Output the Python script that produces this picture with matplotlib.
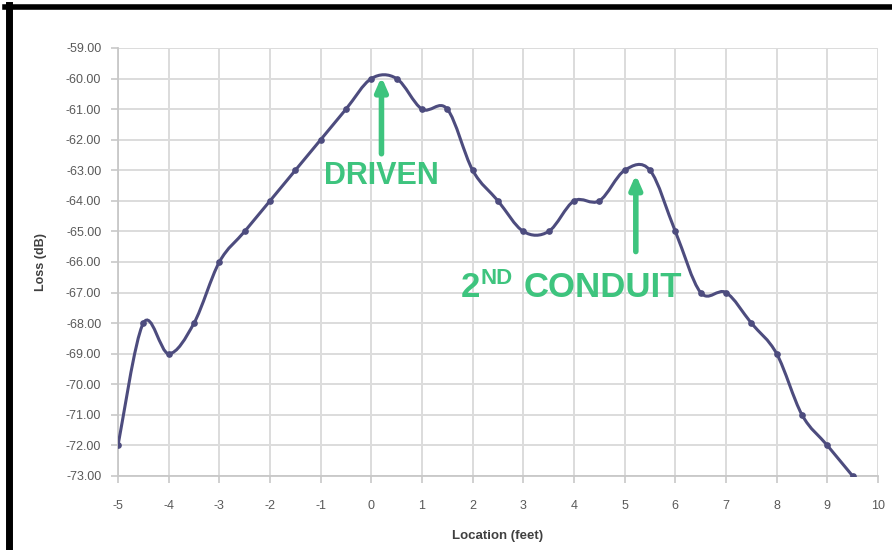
import matplotlib
matplotlib.use("Agg")
import matplotlib.pyplot as plt
from matplotlib.path import Path
from matplotlib.patches import PathPatch
from matplotlib.lines import Line2D
from matplotlib.transforms import offset_copy
import numpy as np

location = [-5, -4.5, -4, -3.5, -3, -2.5, -2, -1.5, -1, -0.5, 0, 0.5, 1, 1.5, 2, 2.5,
            3, 3.5, 4, 4.5, 5, 5.5, 6, 6.5, 7, 7.5, 8, 8.5, 9, 9.5]
loss = [-72, -68, -69, -68, -66, -65, -64, -63, -62, -61, -60, -60, -61, -61, -63, -64,
        -65, -65, -64, -64, -63, -63, -65, -67, -67, -68, -69, -71, -72, -73]
x_ticks = list(range(-5, 11))
y_ticks = list(range(-73, -58))

LINE = '#4d4c7e'
GREEN = '#3ec47e'
TXT = '#595959'
FONT = 'Liberation Sans'

fig = plt.figure(figsize=(8.92, 5.5), dpi=100)
ax = fig.add_axes([118/892, 1-476/550, (878-118)/892, (476-48)/550])

# smooth (Excel-like) curve built as Bezier path through the data points
xs = np.array(location, float); ys = np.array(loss, float)
verts = [(xs[0], ys[0])]; codes = [Path.MOVETO]
n = len(xs)
for i in range(n-1):
    p0 = np.array([xs[max(i-1, 0)], ys[max(i-1, 0)]])
    p1 = np.array([xs[i], ys[i]])
    p2 = np.array([xs[i+1], ys[i+1]])
    p3 = np.array([xs[min(i+2, n-1)], ys[min(i+2, n-1)]])
    c1 = p1 + (p2 - p0)/6
    c2 = p2 - (p3 - p1)/6
    verts += [tuple(c1), tuple(c2), tuple(p2)]
    codes += [Path.CURVE4]*3
ax.add_patch(PathPatch(Path(verts, codes), facecolor='none', edgecolor=LINE, lw=2.2, zorder=3))
ax.plot(location, loss, linestyle='none', marker='o', ms=3.8, color=LINE, zorder=4)

ax.set_xlim(-5, 10)
ax.set_ylim(-73, -59)
ax.set_xticks(x_ticks)
ax.set_yticks(y_ticks)
ax.set_xticklabels([str(v) for v in x_ticks])
ax.set_yticklabels([f'{v:.2f}' for v in y_ticks])
ax.grid(True, color='#dcdcdc', lw=1.4, zorder=0)
ax.set_axisbelow(True)
for s in ['top', 'right']:
    ax.spines[s].set_visible(False)
for s in ['left', 'bottom']:
    ax.spines[s].set_color('#c8c8c8')
    ax.spines[s].set_linewidth(1.3)
ax.tick_params(axis='both', colors='#c8c8c8', length=5, width=1.2, labelcolor=TXT, labelsize=9)
ax.tick_params(axis='x', pad=12)
ax.tick_params(axis='y', pad=7)
for lab in ax.get_xticklabels() + ax.get_yticklabels():
    lab.set_fontfamily(FONT)
ax.set_xlabel('Location (feet)', fontsize=9.5, color='#404040', fontweight='bold',
              fontfamily=FONT, labelpad=13)
ax.set_ylabel('Loss (dB)', fontsize=9, color='#404040', fontweight='bold',
              fontfamily=FONT, labelpad=14)

# annotations
ax.annotate('', xy=(0.2, -59.85), xytext=(0.2, -62.55),
            arrowprops=dict(arrowstyle='-|>,head_length=0.8,head_width=0.35', color=GREEN, lw=4))
ax.text(0.2, -63.2, 'DRIVEN', color=GREEN, fontsize=22, fontweight='bold',
        fontfamily=FONT, ha='center', va='center')
ax.annotate('', xy=(5.22, -63.05), xytext=(5.22, -65.75),
            arrowprops=dict(arrowstyle='-|>,head_length=0.8,head_width=0.35', color=GREEN, lw=4))

px = 72 / fig.dpi
ax.text(1.77, -67.15, '2', color=GREEN, fontsize=25, fontweight='bold',
        fontfamily=FONT, ha='left', va='baseline')
ax.text(1.77, -67.15, 'ND', color=GREEN, fontsize=16, fontweight='bold', fontfamily=FONT,
        ha='left', va='baseline',
        transform=offset_copy(ax.transData, fig=fig, x=19*px, y=13*px, units='points'))
ax.text(1.77, -67.15, 'CONDUIT', color=GREEN, fontsize=25, fontweight='bold', fontfamily=FONT,
        ha='left', va='baseline',
        transform=offset_copy(ax.transData, fig=fig, x=63*px, y=0, units='points'))

# black frame at top and left
fig.add_artist(Line2D([5/892, 1], [1-7/550, 1-7/550], color='black', lw=4, transform=fig.transFigure))
fig.add_artist(Line2D([9/892, 9/892], [0, 1-5/550], color='black', lw=5, transform=fig.transFigure))

fig.savefig('out.png', dpi=100, facecolor='white')
